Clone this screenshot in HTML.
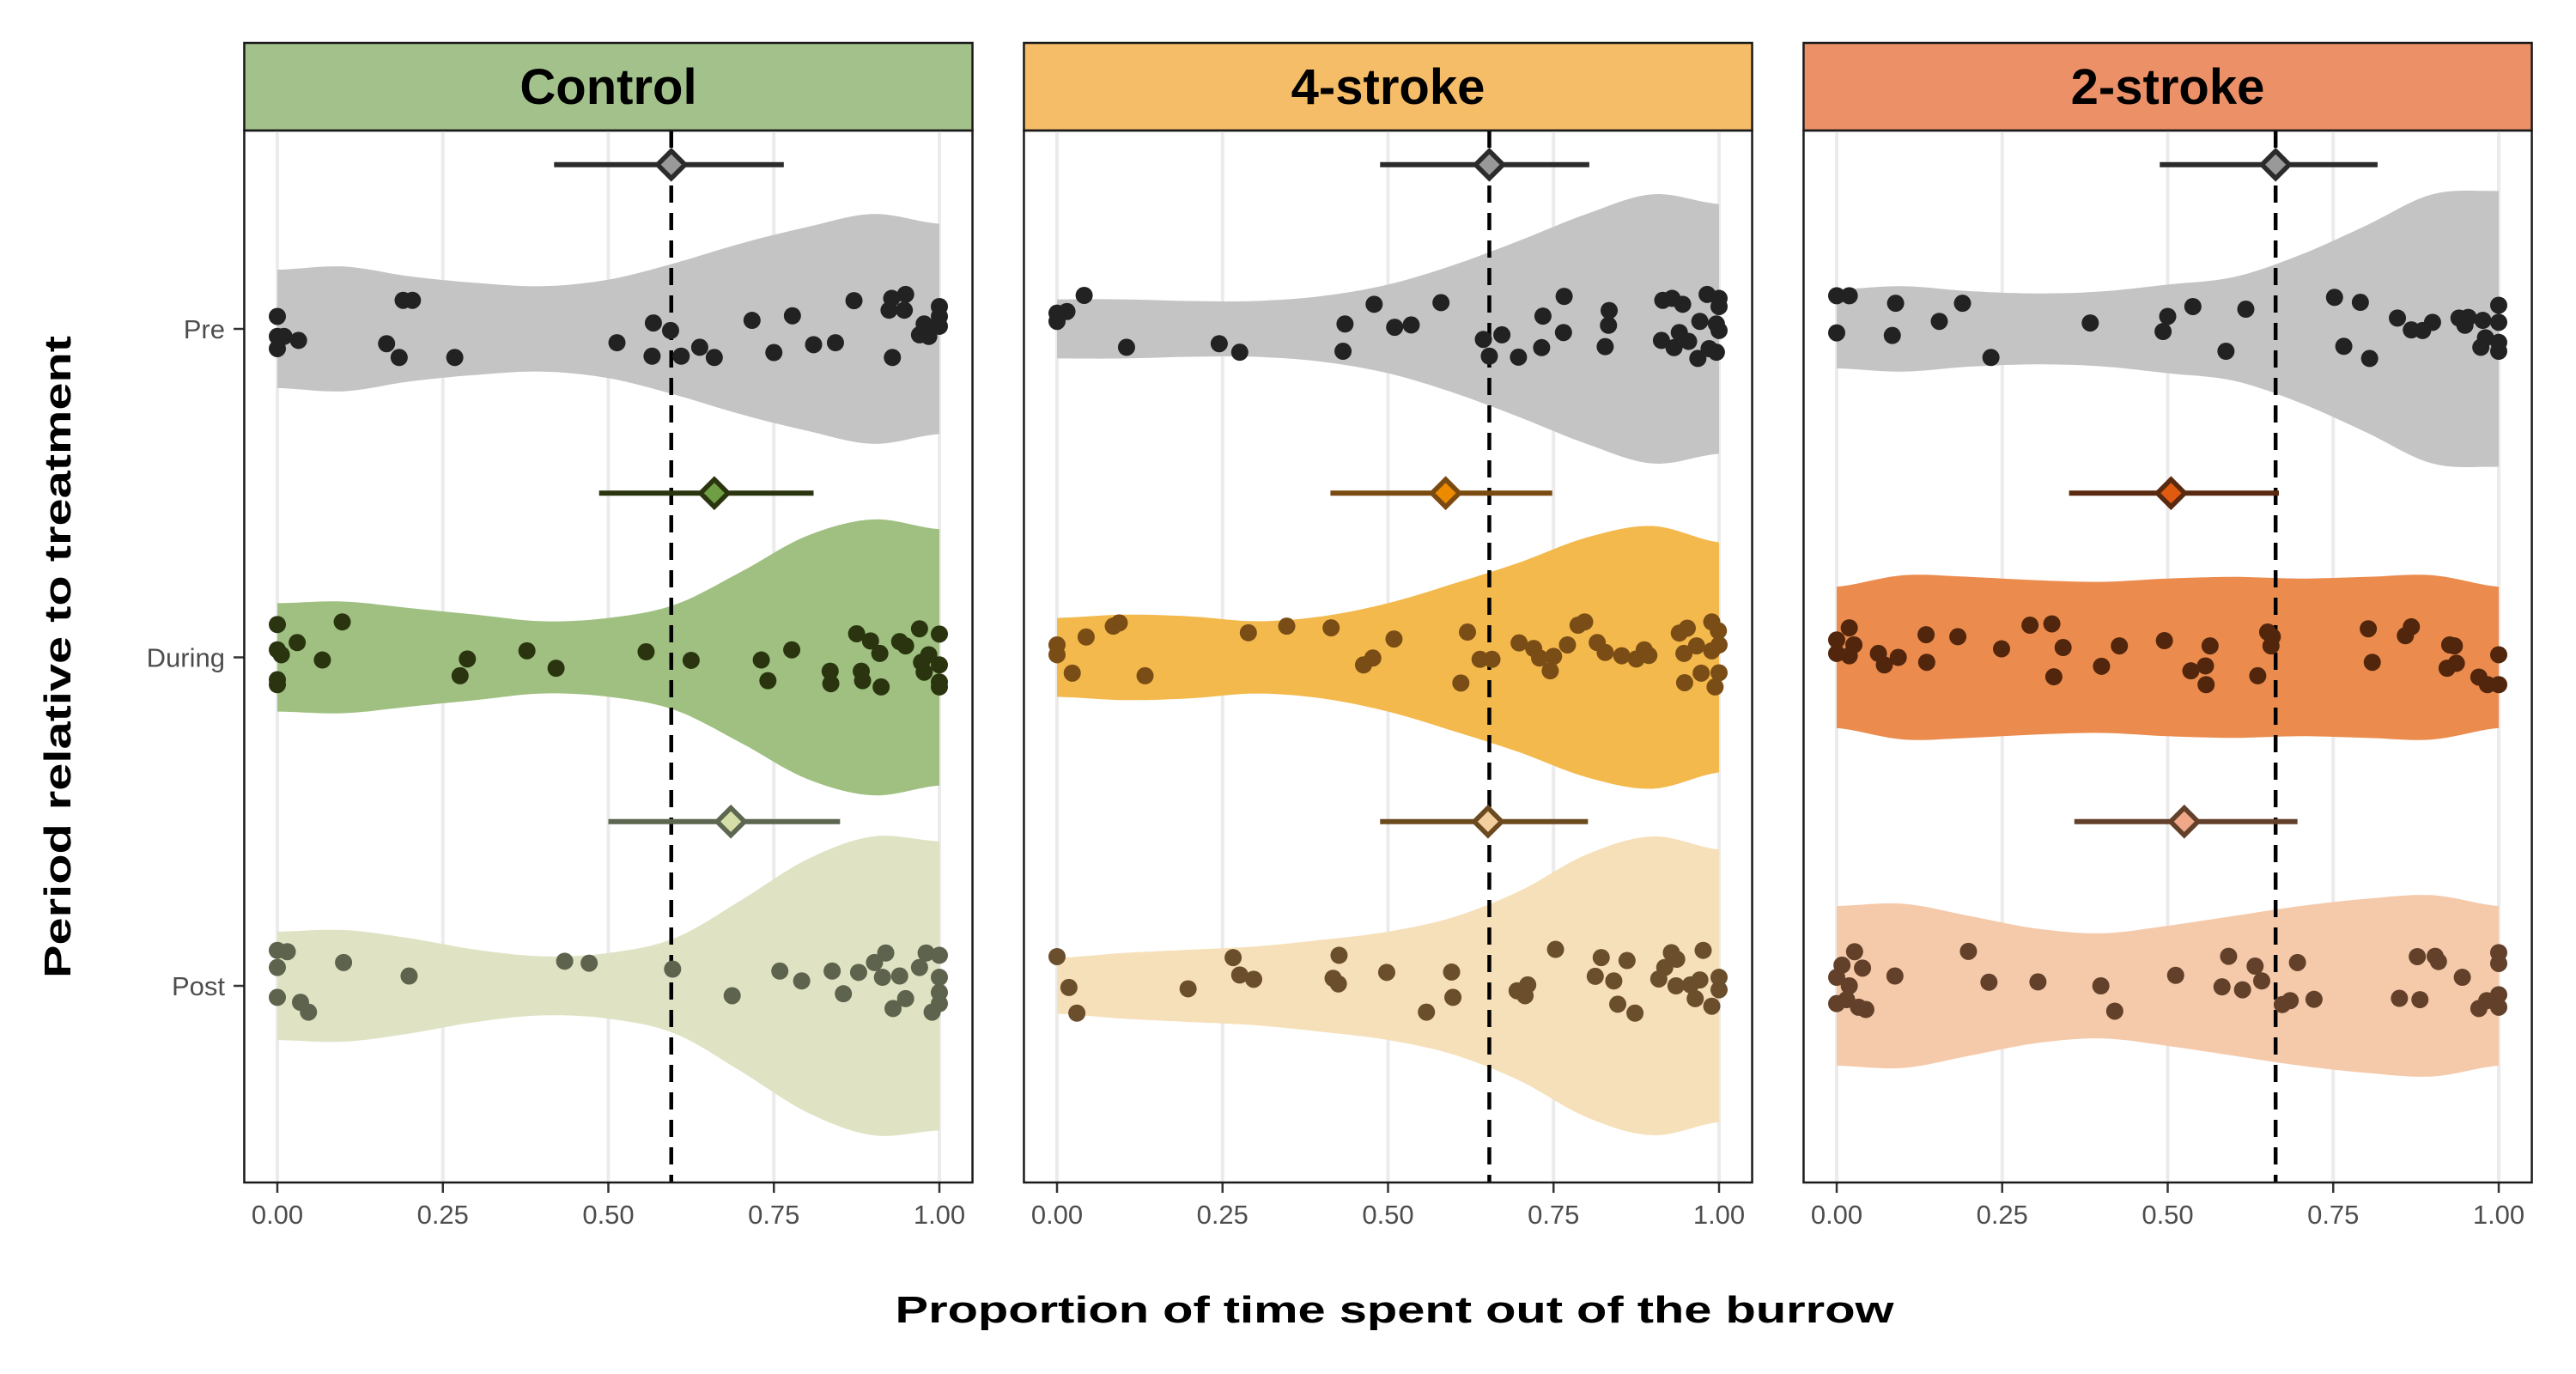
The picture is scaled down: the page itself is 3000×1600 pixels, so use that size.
<!DOCTYPE html>
<html><head><meta charset="utf-8"><style>
html,body{margin:0;padding:0;background:#fff;}
svg{display:block;font-family:"Liberation Sans",Arial,sans-serif;}
</style></head><body>
<svg id="chart" width="3000" height="1600" viewBox="0 0 3000 1600" xmlns="http://www.w3.org/2000/svg">
<text x="0" y="0" transform="translate(82,765) rotate(-90)" text-anchor="middle" font-size="44" font-weight="bold" textLength="748" lengthAdjust="spacingAndGlyphs">Period relative to treatment</text>
<text x="1624" y="1540" text-anchor="middle" font-size="44" font-weight="bold" textLength="1163" lengthAdjust="spacingAndGlyphs">Proportion of time spent out of the burrow</text>
</svg>
<script>
const panels = ["Control", "4-stroke", "2-stroke"];
const periods = ["Pre", "During", "Post"];
const xTicks = [0, 0.25, 0.5, 0.75, 1];
const xTickLabels = ["0.00", "0.25", "0.50", "0.75", "1.00"];
const violinGrid = [0,0.1,0.2,0.3,0.4,0.5,0.6,0.7,0.8,0.9,1.0];
// half-widths (category units) at violinGrid
const violinControl = [
 [0.18,0.19,0.16,0.14,0.13,0.15,0.2,0.26,0.31,0.35,0.32],
 [0.165,0.17,0.15,0.13,0.11,0.12,0.16,0.26,0.37,0.42,0.39],
 [0.165,0.17,0.145,0.11,0.09,0.10,0.145,0.26,0.385,0.455,0.44]];
const violin4s = [
 [0.09,0.09,0.085,0.085,0.1,0.135,0.195,0.27,0.35,0.41,0.38],
 [0.12,0.13,0.125,0.11,0.125,0.165,0.225,0.29,0.365,0.4,0.35],
 [0.085,0.1,0.11,0.12,0.14,0.165,0.21,0.29,0.4,0.455,0.415]];
const violin2s = [
 [0.12,0.13,0.115,0.108,0.114,0.135,0.158,0.225,0.315,0.41,0.42],
 [0.215,0.25,0.245,0.235,0.23,0.24,0.245,0.24,0.245,0.25,0.215],
 [0.243,0.25,0.213,0.175,0.16,0.183,0.213,0.243,0.265,0.276,0.243]];
// mean and CI per period
const meanControl = [0.595, 0.66, 0.685];
const lowControl = [0.418, 0.486, 0.50];
const highControl = [0.765, 0.81, 0.85];
const mean4s = [0.653, 0.587, 0.651];
const low4s = [0.488, 0.413, 0.488];
const high4s = [0.804, 0.748, 0.802];
const mean2s = [0.663, 0.505, 0.525];
const low2s = [0.488, 0.351, 0.359];
const high2s = [0.817, 0.668, 0.696];
// points: [value, jitter(category units)]
const ptsControlPre = [[0,-0.038],[0,0.023],[0,0.06],[0.01,0.023],[0.032,0.035],[0.19,-0.087],[0.204,-0.087],[0.165,0.045],[0.184,0.087],[0.268,0.087],[0.513,0.042],[0.568,-0.018],[0.594,0.005],[0.566,0.083],[0.61,0.083],[0.638,0.056],[0.66,0.087],[0.717,-0.026],[0.75,0.072],[0.778,-0.04],[0.81,0.048],[0.843,0.042],[0.871,-0.086],[0.928,-0.093],[0.949,-0.105],[0.924,-0.057],[0.947,-0.057],[0.929,0.087],[1,-0.068],[1,-0.038],[1,-0.008],[0.97,0.018],[0.984,0.023],[0.977,-0.015]];
const ptsControlDuring = [[0,-0.10],[0.098,-0.108],[0.03,-0.045],[0,-0.023],[0.006,-0.008],[0.068,0.008],[0,0.068],[0,0.083],[0.287,0.005],[0.276,0.056],[0.377,-0.02],[0.421,0.033],[0.557,-0.017],[0.625,0.009],[0.731,0.008],[0.741,0.071],[0.777,-0.023],[0.835,0.042],[0.836,0.08],[0.875,-0.072],[0.896,-0.05],[0.91,-0.012],[0.882,0.042],[0.884,0.071],[0.912,0.09],[0.94,-0.048],[0.949,-0.035],[0.97,-0.087],[1,-0.071],[0.973,0.015],[0.984,-0.008],[1,0.023],[0.977,0.045],[1,0.075],[1,0.09]];
const ptsControlPost = [[0,-0.108],[0.015,-0.104],[0,-0.056],[0.1,-0.071],[0.199,-0.03],[0.434,-0.075],[0.471,-0.069],[0.597,-0.051],[0.687,0.03],[0.759,-0.045],[0.792,-0.015],[0.838,-0.045],[0.855,0.024],[0.878,-0.041],[0.902,-0.071],[0.914,-0.026],[0.919,-0.1],[0.94,-0.03],[0.97,-0.056],[0.98,-0.1],[1,-0.093],[1,-0.026],[1,0.02],[0.949,0.039],[0.93,0.069],[0.989,0.08],[1,0.054],[0,0.035],[0.035,0.05],[0.047,0.08]];
const pts4sPre = [[0,-0.048],[0.015,-0.053],[0,-0.023],[0.041,-0.102],[0.105,0.056],[0.245,0.045],[0.276,0.071],[0.479,-0.075],[0.435,-0.015],[0.432,0.068],[0.51,-0.005],[0.535,-0.012],[0.58,-0.08],[0.644,0.032],[0.672,0.018],[0.653,0.083],[0.697,0.086],[0.734,-0.039],[0.732,0.057],[0.766,-0.099],[0.765,0.011],[0.834,-0.056],[0.833,-0.011],[0.828,0.054],[0.915,-0.087],[0.929,-0.093],[0.945,-0.075],[0.982,-0.105],[1,-0.093],[1,-0.068],[0.971,-0.023],[0.996,-0.015],[1,0.005],[0.913,0.035],[0.94,0.011],[0.932,0.057],[0.954,0.038],[0.968,0.09],[0.985,0.06],[0.996,0.071]];
const pts4sDuring = [[0,-0.038],[0,-0.008],[0.044,-0.062],[0.085,-0.095],[0.094,-0.105],[0.023,0.048],[0.133,0.056],[0.289,-0.075],[0.347,-0.095],[0.414,-0.09],[0.509,-0.056],[0.463,0.023],[0.477,0.002],[0.62,-0.077],[0.61,0.078],[0.639,0.006],[0.657,0.006],[0.698,-0.044],[0.72,-0.027],[0.729,0.002],[0.75,-0.003],[0.745,0.041],[0.771,-0.038],[0.787,-0.098],[0.797,-0.108],[0.816,-0.045],[0.828,-0.015],[0.853,-0.005],[0.875,0.005],[0.887,-0.023],[0.894,-0.006],[0.94,-0.074],[0.952,-0.089],[0.947,-0.012],[0.966,-0.035],[0.989,-0.02],[0.989,-0.108],[0.999,-0.081],[1,-0.038],[0.973,0.048],[1,0.047],[0.948,0.077],[0.994,0.09]];
const pts4sPost = [[0,-0.089],[0.018,0.005],[0.03,0.083],[0.198,0.009],[0.266,-0.086],[0.276,-0.033],[0.297,-0.02],[0.426,-0.093],[0.417,-0.023],[0.425,-0.006],[0.498,-0.041],[0.596,-0.042],[0.598,0.035],[0.558,0.08],[0.695,0.015],[0.711,-0.003],[0.707,0.03],[0.753,-0.111],[0.822,-0.086],[0.861,-0.077],[0.813,-0.029],[0.841,-0.015],[0.847,0.056],[0.873,0.083],[0.909,-0.021],[0.918,-0.056],[0.928,-0.101],[0.936,-0.081],[0.976,-0.108],[0.935,0],[0.957,-0.003],[0.971,-0.018],[1,-0.026],[1,0.012],[0.964,0.039],[0.989,0.062]];
const pts2sPre = [[0,-0.101],[0.019,-0.101],[0.089,-0.078],[0.19,-0.078],[0,0.012],[0.084,0.02],[0.155,-0.023],[0.233,0.087],[0.383,-0.018],[0.5,-0.038],[0.493,0.008],[0.538,-0.068],[0.618,-0.06],[0.588,0.068],[0.752,-0.096],[0.791,-0.081],[0.766,0.053],[0.805,0.09],[0.847,-0.033],[0.868,0.003],[0.885,0.005],[0.9,-0.02],[0.94,-0.033],[0.954,-0.035],[0.949,-0.011],[0.976,-0.026],[1,-0.072],[1,-0.02],[0.98,0.027],[0.973,0.056],[1,0.041],[1,0.068]];
const pts2sDuring = [[0,-0.053],[0.019,-0.09],[0.026,-0.038],[0,-0.012],[0.019,-0.005],[0.063,-0.012],[0.072,0.023],[0.093,0],[0.135,-0.069],[0.136,0.015],[0.183,-0.063],[0.249,-0.026],[0.292,-0.098],[0.325,-0.102],[0.342,-0.03],[0.328,0.059],[0.4,0.027],[0.427,-0.035],[0.495,-0.051],[0.535,0.041],[0.557,0.026],[0.558,0.083],[0.564,-0.035],[0.636,0.056],[0.651,-0.077],[0.658,-0.063],[0.656,-0.035],[0.803,-0.087],[0.859,-0.066],[0.868,-0.093],[0.809,0.015],[0.926,-0.038],[0.933,-0.035],[0.922,0.033],[0.936,0.018],[0.97,0.06],[0.983,0.083],[1,-0.008],[1,0.083]];
const pts2sPost = [[0.027,-0.104],[0.008,-0.063],[0.039,-0.054],[0,-0.026],[0.019,0],[0,0.054],[0.015,0.042],[0.033,0.065],[0.044,0.072],[0.088,-0.03],[0.199,-0.105],[0.23,-0.011],[0.304,-0.012],[0.399,0],[0.42,0.077],[0.512,-0.032],[0.592,-0.09],[0.632,-0.06],[0.582,0.003],[0.613,0.012],[0.642,-0.015],[0.696,-0.071],[0.673,0.057],[0.685,0.045],[0.721,0.041],[0.877,-0.089],[0.904,-0.09],[0.909,-0.074],[0.945,-0.026],[0.85,0.038],[0.881,0.042],[1,-0.101],[1,-0.068],[1,0.027],[0.982,0.045],[0.97,0.069],[1,0.065]];

const svg = document.getElementById('chart');
const NS = 'http://www.w3.org/2000/svg';
function mk(tag, attrs, parent){const e=document.createElementNS(NS,tag);for(const k in attrs)e.setAttribute(k,attrs[k]);(parent||svg).appendChild(e);return e;}

const X0 = 323, PANEL_STEP = 908, UNIT_X = 771;
const PANEL_TOP = 152, PANEL_BOTTOM = 1377, CAT0 = 383, UNIT_Y = 382.5;
function xScale(p, v){return X0 + p*PANEL_STEP + v*UNIT_X;}
function yScale(i, off){return CAT0 + (i + off)*UNIT_Y;}

const violins = [violinControl, violin4s, violin2s];
const means = [meanControl, mean4s, mean2s];
const lows = [lowControl, low4s, low2s];
const highs = [highControl, high4s, high2s];
const points = [[ptsControlPre,ptsControlDuring,ptsControlPost],[pts4sPre,pts4sDuring,pts4sPost],[pts2sPre,pts2sDuring,pts2sPost]];
const stripFill = ['#a3c18a','#f5bd68','#ec9067'];
const violinFill = [['#c4c4c4','#9fc081','#dfe3c4'],['#c4c4c4','#f3b94c','#f6e0b9'],['#c4c4c4','#eb8c4e','#f5caab']];
const pointFill = [['#222222','#2a3510','#5d634c'],['#222222','#7a4d17','#6b4e2c'],['#222222','#52260c','#62402a']];
const barColor = [['#2b2b2b','#2a3510','#5d6650'],['#2b2b2b','#7a4a10','#6b4a20'],['#2b2b2b','#5a2a10','#62402a']];
const diamondFill = [['#999999','#6f9e44','#d6dea8'],['#999999','#ec8a00','#f3cfa0'],['#999999','#e05a10','#f0a888']];
const panelKeys = ['control','4-stroke','2-stroke'];

function interp(arr, x){
  const t = x*10; let i = Math.min(9, Math.floor(t)); const f = t - i;
  const p0 = arr[Math.max(0,i-1)], p1 = arr[i], p2 = arr[i+1], p3 = arr[Math.min(10,i+2)];
  return 0.5*((2*p1)+(-p0+p2)*f+(2*p0-5*p1+4*p2-p3)*f*f+(-p0+3*p1-3*p2+p3)*f*f*f);
}

periods.forEach((lab,i)=>{
  const t = mk('text',{x:262,y:yScale(i,0)+11,'text-anchor':'end','font-size':31,fill:'#4d4d4d'});
  t.textContent = lab;
  
  
  const tk = mk('line',{x1:272,x2:284,y1:yScale(i,0),y2:yScale(i,0),stroke:'#333','stroke-width':2.5});
  
  
});

panels.forEach((pname,p)=>{
  const g = mk('g',{});
  
  
  const left = xScale(p,-0.05), right = xScale(p,1.05);
  const strip = mk('rect',{x:left,y:50,width:right-left,height:PANEL_TOP-50,fill:stripFill[p],stroke:'#1a1a1a','stroke-width':2.5},g);
  
  
  const st = mk('text',{x:(left+right)/2,y:121,'text-anchor':'middle','font-size':58,'font-weight':'bold',fill:'#000'},g);
  st.textContent = pname;
  
  
  xTicks.forEach((v,k)=>{
    const gl = mk('line',{x1:xScale(p,v),x2:xScale(p,v),y1:PANEL_TOP,y2:PANEL_BOTTOM,stroke:'#ebebeb','stroke-width':4},g);
    
    
    const tk = mk('line',{x1:xScale(p,v),x2:xScale(p,v),y1:PANEL_BOTTOM,y2:PANEL_BOTTOM+12,stroke:'#333','stroke-width':2.5},g);
    
    
    const tl = mk('text',{x:xScale(p,v),y:PANEL_BOTTOM+48,'text-anchor':'middle','font-size':31,fill:'#4d4d4d'},g);
    tl.textContent = xTickLabels[k];
    
    
  });
  periods.forEach((per,i)=>{
    const hw = violins[p][i];
    let top=[], bot=[];
    for(let s=0;s<=100;s++){const v=s/100;const h=interp(hw,v);top.push(xScale(p,v).toFixed(1)+','+yScale(i,-h).toFixed(1));bot.push(xScale(p,v).toFixed(1)+','+yScale(i,h).toFixed(1));}
    const path = mk('path',{d:'M'+top.join('L')+'L'+bot.reverse().join('L')+'Z',fill:violinFill[p][i]},g);
    
    
  });
  const dl = mk('line',{x1:xScale(p,means[p][0]),x2:xScale(p,means[p][0]),y1:PANEL_TOP,y2:PANEL_BOTTOM,stroke:'#000','stroke-width':4.5,'stroke-dasharray':'20 12'},g);
  
  
  periods.forEach((per,i)=>{
    points[p][i].forEach(pt=>{
      const c = mk('circle',{cx:xScale(p,pt[0]),cy:yScale(i,pt[1]),r:10,fill:pointFill[p][i]},g);
      
      
    });
  });
  periods.forEach((per,i)=>{
    const y = yScale(i,-0.5);
    const eb = mk('line',{x1:xScale(p,lows[p][i]),x2:xScale(p,highs[p][i]),y1:y,y2:y,stroke:barColor[p][i],'stroke-width':6},g);
    
    
    const cx = xScale(p,means[p][i]), d=16;
    const dm = mk('polygon',{points:`${cx},${y-d} ${cx+d},${y} ${cx},${y+d} ${cx-d},${y}`,fill:diamondFill[p][i],stroke:barColor[p][i],'stroke-width':5.5},g);
    
    
  });
  const b = mk('rect',{x:left,y:PANEL_TOP,width:right-left,height:PANEL_BOTTOM-PANEL_TOP,fill:'none',stroke:'#1a1a1a','stroke-width':2.5},g);
  
  
});
</script>
</body></html>
